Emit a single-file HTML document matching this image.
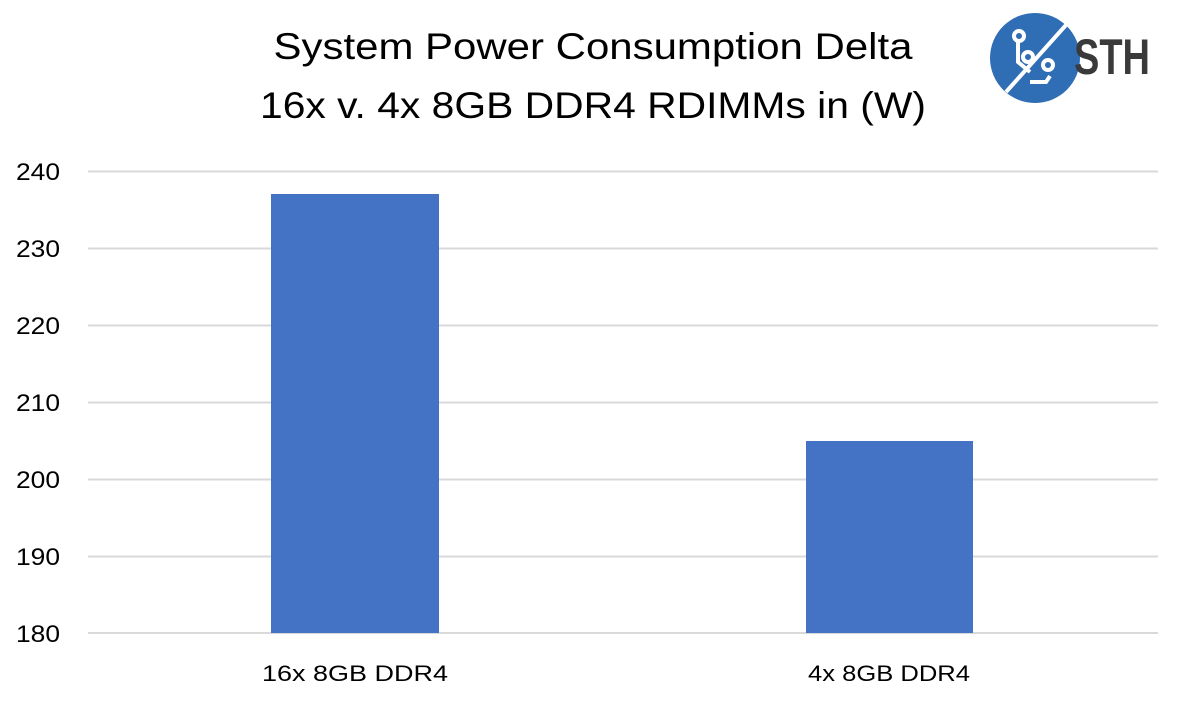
<!DOCTYPE html>
<html><head><style>
body{margin:0;background:#fff;}
svg text{font-family:"Liberation Sans",sans-serif;}
</style></head><body>
<svg width="1185" height="705" xmlns="http://www.w3.org/2000/svg">
<rect width="1185" height="705" fill="#fff"/>
<text x="593" y="59" font-size="37" text-anchor="middle" fill="#000" textLength="639" lengthAdjust="spacingAndGlyphs">System Power Consumption Delta</text>
<text x="593" y="118" font-size="37" text-anchor="middle" fill="#000" textLength="666" lengthAdjust="spacingAndGlyphs">16x v. 4x 8GB DDR4 RDIMMs in (W)</text>
<g stroke="#d9d9d9" stroke-width="2">
<line x1="88" x2="1158" y1="171.5" y2="171.5"/>
<line x1="88" x2="1158" y1="248.5" y2="248.5"/>
<line x1="88" x2="1158" y1="325.5" y2="325.5"/>
<line x1="88" x2="1158" y1="402.5" y2="402.5"/>
<line x1="88" x2="1158" y1="479.5" y2="479.5"/>
<line x1="88" x2="1158" y1="556.5" y2="556.5"/>
<line x1="88" x2="1158" y1="633" y2="633"/>
</g>
<g font-size="24" text-anchor="end" fill="#000">
<text x="60" y="180" textLength="44" lengthAdjust="spacingAndGlyphs">240</text>
<text x="60" y="257" textLength="44" lengthAdjust="spacingAndGlyphs">230</text>
<text x="60" y="334" textLength="44" lengthAdjust="spacingAndGlyphs">220</text>
<text x="60" y="411" textLength="44" lengthAdjust="spacingAndGlyphs">210</text>
<text x="60" y="488" textLength="44" lengthAdjust="spacingAndGlyphs">200</text>
<text x="60" y="565" textLength="44" lengthAdjust="spacingAndGlyphs">190</text>
<text x="60" y="642" textLength="44" lengthAdjust="spacingAndGlyphs">180</text>
</g>
<rect x="271" y="194" width="168" height="439" fill="#4472c4"/>
<rect x="806" y="441" width="167" height="192" fill="#4472c4"/>
<g font-size="22" text-anchor="middle" fill="#000">
<text x="355" y="681" textLength="186" lengthAdjust="spacingAndGlyphs">16x 8GB DDR4</text>
<text x="889" y="681" textLength="162" lengthAdjust="spacingAndGlyphs">4x 8GB DDR4</text>
</g>
<circle cx="1035" cy="58" r="45" fill="#2f6db5"/>
<g stroke="#fff" stroke-width="4" fill="none">
<line x1="1006" y1="92" x2="1066" y2="25"/>
<path d="M1018 42 L1018 62 L1030 72"/>
<path d="M1030 82 L1046 82 L1050 76"/>
<circle cx="1019" cy="36" r="5"/>
<circle cx="1028" cy="57" r="5"/>
<circle cx="1048" cy="65" r="5"/>
</g>
<text x="1112" y="74" font-size="50" text-anchor="middle" fill="#3a3a3a" font-weight="bold" textLength="76" lengthAdjust="spacingAndGlyphs">STH</text>
</svg>
</body></html>
